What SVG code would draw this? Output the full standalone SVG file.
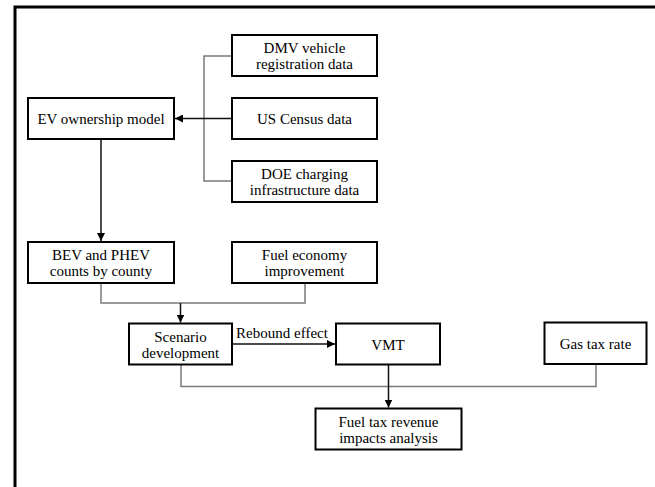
<svg xmlns="http://www.w3.org/2000/svg" width="655" height="487" viewBox="0 0 655 487">
<style>
.box{fill:#fff;stroke:#000;stroke-width:2}
.t{font-family:"Liberation Serif","Times New Roman",serif;font-size:15px;fill:#000;text-anchor:middle}
.g{fill:none;stroke:#7a7a7a;stroke-width:1.5}
.a{fill:none;stroke:#111;stroke-width:1.5}
</style>
<defs>
<marker id="ah" viewBox="0 0 10 10" refX="10" refY="5" markerWidth="8" markerHeight="8" markerUnits="userSpaceOnUse" orient="auto">
<path d="M0,0 L10,5 L0,10 Z" fill="#000"/>
</marker>
</defs>
<rect width="655" height="487" fill="#fff"/>
<path d="M15,487 V7 H655" fill="none" stroke="#000" stroke-width="3"/>
<g id="connectors">
<path class="g" d="M232,56 H204 V181 H232"/>
<path class="a" d="M232,118.5 H175" marker-end="url(#ah)"/>
<path class="a" d="M101,139 V241" marker-end="url(#ah)"/>
<path class="g" d="M101,283 V303 H305 V283"/>
<path class="a" d="M180.5,303 V322.5" marker-end="url(#ah)"/>
<path class="a" d="M232,344 H335" marker-end="url(#ah)"/>
<text class="t" x="282" y="338">Rebound effect</text>
<path class="g" d="M181,365 V386.5 H596 V364"/>
<path class="a" d="M388.5,364 V407.5" marker-end="url(#ah)"/>
</g>
<g id="dmv"><rect class="box" x="232" y="35" width="145" height="41"/><text class="t" x="304.5" y="53">DMV vehicle</text><text class="t" x="304.5" y="69">registration data</text></g>
<g id="census"><rect class="box" x="232" y="98" width="145" height="41"/><text class="t" x="304.5" y="124">US Census data</text></g>
<g id="doe"><rect class="box" x="232" y="161" width="145" height="41"/><text class="t" x="304.5" y="179">DOE charging</text><text class="t" x="304.5" y="195">infrastructure data</text></g>
<g id="ev"><rect class="box" x="28" y="98" width="146" height="41"/><text class="t" x="101" y="124">EV ownership model</text></g>
<g id="bev"><rect class="box" x="28" y="242" width="146" height="41"/><text class="t" x="101" y="260">BEV and PHEV</text><text class="t" x="101" y="276">counts by county</text></g>
<g id="fuel"><rect class="box" x="232" y="242" width="145" height="41"/><text class="t" x="304.5" y="260">Fuel economy</text><text class="t" x="304.5" y="276">improvement</text></g>
<g id="scenario"><rect class="box" x="129" y="323.5" width="103" height="41"/><text class="t" x="180.5" y="341.5">Scenario</text><text class="t" x="180.5" y="357.5">development</text></g>
<g id="vmt"><rect class="box" x="336" y="323.5" width="104" height="41"/><text class="t" x="388" y="349.5">VMT</text></g>
<g id="gas"><rect class="box" x="544.5" y="322.5" width="102" height="41.5"/><text class="t" x="595.5" y="348.5">Gas tax rate</text></g>
<g id="revenue"><rect class="box" x="315.5" y="408.5" width="146" height="41"/><text class="t" x="388.5" y="426.5">Fuel tax revenue</text><text class="t" x="388.5" y="442.5">impacts analysis</text></g>
</svg>
